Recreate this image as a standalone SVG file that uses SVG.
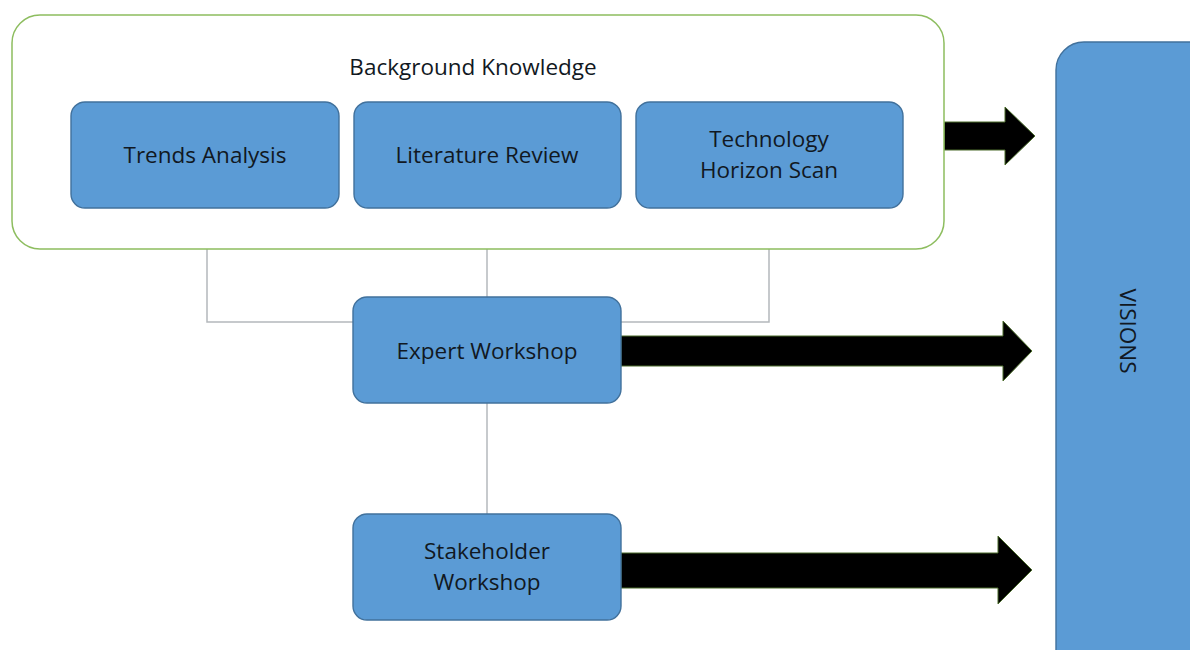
<svg xmlns="http://www.w3.org/2000/svg" width="1190" height="650" viewBox="0 0 1190 650">
  <style>
    .box { fill: #5b9bd5; stroke: #41719c; stroke-width: 1.4; }
    .label { font-family: "Open Sans", "Liberation Sans", sans-serif; font-size: 22.5px; fill: #111822; text-anchor: middle; dominant-baseline: central; }
    .link { fill: none; stroke: #b4b8bc; stroke-width: 1.5; }
    .flow { fill: #000; stroke: #4a6b2a; stroke-width: 1; stroke-linejoin: miter; }
  </style>
  <rect width="1190" height="650" fill="#fff"/>

  <!-- connectors -->
  <g id="connectors">
    <polyline class="link" points="207,249 207,322 769,322 769,249"/>
    <line class="link" x1="487" y1="249" x2="487" y2="297"/>
    <line class="link" x1="487" y1="403" x2="487" y2="514"/>
    <polygon class="flow" points="944,122 1005,122 1005,107 1035,136 1005,165 1005,150 944,150"/>
    <polygon class="flow" points="621,336 1003,336 1003,321 1032,351 1003,381 1003,366 621,366"/>
    <polygon class="flow" points="621,553 998,553 998,536 1032,570 998,604 998,588 621,588"/>
  </g>

  <g id="background-knowledge">
    <rect x="12" y="15" width="932" height="234" rx="28" fill="#fff" stroke="#8dbd5f" stroke-width="1.5"/>
    <text class="label" x="473" y="66">Background Knowledge</text>
  </g>

  <g id="trends-analysis">
    <rect class="box" x="71" y="102" width="268" height="106" rx="14"/>
    <text class="label" x="205" y="154">Trends Analysis</text>
  </g>

  <g id="literature-review">
    <rect class="box" x="354" y="102" width="267" height="106" rx="14"/>
    <text class="label" x="487" y="154">Literature Review</text>
  </g>

  <g id="technology-horizon-scan">
    <rect class="box" x="636" y="102" width="267" height="106" rx="14"/>
    <text class="label" x="769" y="138">Technology</text>
    <text class="label" x="769" y="169">Horizon Scan</text>
  </g>

  <g id="expert-workshop">
    <rect class="box" x="353" y="297" width="268" height="106" rx="14"/>
    <text class="label" x="487" y="350">Expert Workshop</text>
  </g>

  <g id="stakeholder-workshop">
    <rect class="box" x="353" y="514" width="268" height="106" rx="14"/>
    <text class="label" x="487" y="550">Stakeholder</text>
    <text class="label" x="487" y="581">Workshop</text>
  </g>

  <g id="visions">
    <rect class="box" x="1056" y="42" width="170" height="640" rx="28"/>
    <text class="label" transform="translate(1128,331) rotate(90)">VISIONS</text>
  </g>
</svg>
